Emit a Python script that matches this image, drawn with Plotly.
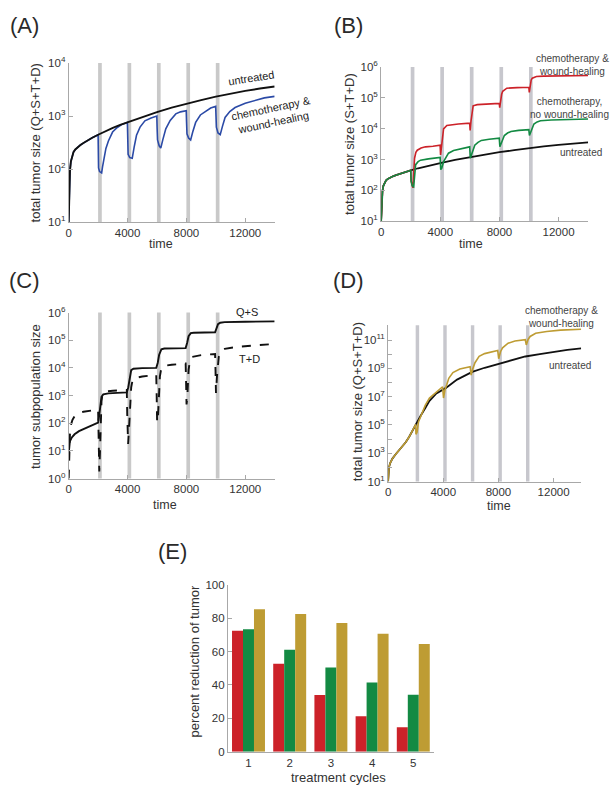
import plotly.graph_objects as go

W, H = 614, 799
FONT = "Liberation Sans, Arial, sans-serif"
TXT = "#333333"
AX = "#a8a8a8"

# ---------------- data ----------------
treatment_starts = [2000, 4000, 6000, 8000, 10000]
treatment_length = 250

# untreated growth, panels A & B
untreated_t = [0, 20, 50, 90, 150, 230, 330, 450, 600, 800, 1000, 1300, 1600, 2000, 2500, 3000, 3500,
               4000, 5000, 6000, 7000, 8000, 9000, 10000, 11000, 12000, 13000, 14000]
untreated_v = [10, 22, 50, 95, 140, 180, 210, 235, 258, 285, 310, 350, 390, 445, 520, 600, 680,
               760, 970, 1190, 1440, 1720, 2000, 2330, 2650, 2980, 3300, 3600]

# panel A: chemotherapy & wound-healing (after first treatment)
chemoA_t = [2000, 2030, 2100, 2240, 2300, 2400, 2530, 2700, 2983, 3300, 3600, 3990,
            4010, 4040, 4150, 4320, 4450, 4610, 4850, 5180, 5600, 5990,
            6010, 6040, 6150, 6260, 6400, 6600, 6900, 7280, 7600, 7990,
            8010, 8040, 8150, 8290, 8430, 8630, 8950, 9310, 9650, 9990,
            10010, 10040, 10150, 10300, 10450, 10630, 10950, 11310, 12000, 12670, 13300, 14000]
chemoA_v = [445, 105, 90, 85, 110, 170, 245, 340, 500, 610, 690, 760,
            400, 190, 165, 160, 260, 435, 620, 815, 920, 1000,
            600, 355, 275, 250, 360, 575, 830, 1100, 1200, 1260,
            800, 465, 385, 355, 500, 760, 1050, 1250, 1420, 1520,
            1000, 620, 480, 445, 640, 940, 1220, 1450, 1750, 2000, 2200, 2350]

# panel B: chemotherapy & wound-healing
chemoWH_t = [2000, 2030, 2100, 2150, 2200, 2260, 2350, 2444, 2700, 3000, 3500, 3990,
             4020, 4080, 4150, 4222, 4444, 4800, 5222, 5990,
             6020, 6080, 6150, 6222, 6500, 7200, 7990,
             8020, 8080, 8150, 8222, 8500, 9200, 9990,
             10020, 10080, 10150, 10222, 10500, 11000, 12000, 13000, 14000]
chemoWH_v = [445, 200, 130, 120, 350, 1100, 1700, 2000, 2350, 2570, 2700, 2900,
             1400, 2500, 6500, 9800, 12600, 13500, 14100, 15000,
             8700, 18000, 40000, 55000, 60000, 63000, 66000,
             48000, 80000, 130000, 163000, 205000, 213000, 220000,
             150000, 250000, 380000, 433000, 490000, 505000, 515000, 525000, 530000]

# panel B: chemotherapy, no wound-healing
chemoNoWH_t = [2000, 2030, 2100, 2200, 2260, 2333, 2500, 2667, 3200, 3890, 3990,
               4030, 4100, 4222, 4400, 4556, 4900, 5222, 5600, 5990,
               6030, 6150, 6333, 6550, 6778, 7300, 7990,
               8030, 8150, 8333, 8550, 8778, 9300, 9990,
               10030, 10150, 10333, 10550, 10778, 11500, 12500, 14000]
chemoNoWH_v = [445, 200, 140, 130, 300, 680, 850, 950, 1050, 1150, 1170,
               470, 520, 850, 1250, 1600, 1950, 2150, 2380, 2570,
               1100, 1700, 2900, 3600, 4150, 4550, 4900,
               2600, 3800, 6000, 7200, 8100, 8800, 9300,
               6000, 9000, 14100, 16500, 18000, 19000, 19800, 20500]

# panel C: subpopulations
QS_t = [0, 30, 80, 200, 400, 700, 1000, 1400, 1800, 2000, 2080, 2150, 2230, 2350, 2700, 3300, 3950,
        4050, 4150, 4250, 4400, 5000, 5950, 6050, 6150, 6300, 6500, 7950,
        8050, 8150, 8300, 8500, 9950, 10050, 10150, 10300, 10600, 12000, 14000]
QS_v = [8, 15, 22, 30, 40, 52, 62, 78, 95, 105, 200, 500, 900, 1100, 1200, 1250, 1300,
        2000, 5000, 8300, 9300, 9800, 10000, 15000, 30000, 47000, 50000, 52000,
        80000, 140000, 180000, 186000, 195000, 280000, 380000, 430000, 450000, 465000, 480000]

TD_t = [0, 20, 50, 100, 160, 250, 400, 700, 1000, 1500, 1950,
        2000, 2020, 2050, 2080, 2130, 2180, 2230, 2300, 2500, 3000, 3500, 3950,
        3980, 4010, 4040, 4080, 4150, 4250, 4350, 4500, 5000, 5500, 5950,
        5980, 6010, 6060, 6120, 6200, 6300, 6500, 7000, 7950,
        7980, 8010, 8060, 8150, 8250, 8400, 9000, 9950,
        9980, 10010, 10080, 10200, 10400, 10600, 11500, 12700, 14000]
TD_v = [1, 5, 30, 70, 90, 130, 180, 230, 260, 290, 310,
        300, 30, 3, 1.8, 10, 100, 600, 1200, 1400, 1500, 1550, 1600,
        200, 30, 18, 40, 300, 2000, 3800, 4300, 4900, 5300, 5600,
        1000, 110, 130, 800, 5000, 10000, 12000, 13000, 14500,
        3000, 480, 800, 8500, 20000, 25000, 29000, 32000,
        8000, 1250, 5000, 25000, 43000, 49000, 58000, 66000, 74000]

# panel D
untreatedD_t = [0, 30, 72, 150, 313, 550, 795, 1050, 1277, 1520, 1760, 2000, 2360, 2700, 3000, 3500,
                4170, 5000, 6100, 7000, 8020, 9000, 9950, 11000, 11880, 13000, 14000]
untreatedD_v = [10, 60, 110, 200, 420, 850, 1600, 3200, 6000, 14000, 39000, 1.12e5, 4.5e5, 1.6e6, 5e6, 1.7e7,
                4e7, 1.6e8, 5.6e8, 1.1e9, 2.1e9, 4e9, 6.9e9, 1e10, 1.4e10, 2e10, 2.6e10]

chemoD_t = [2000, 2020, 2100, 2200, 2400, 2700, 3000, 3500, 3950,
            4020, 4120, 4250, 4400, 4700, 5200, 5950,
            6020, 6150, 6300, 6600, 7000, 7950,
            8020, 8150, 8300, 8700, 9200, 9950,
            10020, 10150, 10300, 10700, 11500, 12500, 14000]
chemoD_v = [1.12e5, 2.2e4, 3e4, 1.6e5, 5e5, 2.5e6, 8e6, 2e7, 5e7,
            8e6, 3e7, 7e7, 2e8, 5e8, 9e8, 1.3e9,
            3.3e8, 1e9, 2.5e9, 7e9, 1.1e10, 1.8e10,
            4.8e9, 1.5e10, 2.8e10, 6e10, 8.5e10, 1.05e11,
            4.5e10, 1.1e11, 1.8e11, 3e11, 4e11, 5e11, 5.8e11]

# panel E
cycles = [1, 2, 3, 4, 5]
red_reduction = [72.5, 52.7, 33.9, 21.2, 14.7]
green_reduction = [73.3, 61.0, 50.4, 41.4, 34.1]
gold_reduction = [85.3, 82.5, 77.0, 70.6, 64.5]

RED = "#cc2229"
GREEN = "#138a43"
GOLD = "#be9c33"
BLUE = "#2b4aa6"


def prefix(t_list, v_list, t_end):
    ts = [t for t in t_list if t < t_end]
    vs = [v for t, v in zip(t_list, v_list) if t < t_end]
    return ts, vs


# ---------------- figure ----------------
fig = go.Figure()


def xd(a, b):
    return [a / W, b / W]


def yd(top, bottom):
    return [1 - bottom / H, 1 - top / H]


panels = {
    "A": dict(x=xd(66, 273), y=yd(56, 218), yr=[1, 4]),
    "B": dict(x=xd(380, 588), y=yd(60, 217), yr=[1, 6]),
    "C": dict(x=xd(66, 273), y=yd(310, 479), yr=[0, 6]),
    "D": dict(x=xd(387, 581), y=yd(323, 482), yr=[1, 12.04]),
}

axis_ids = {"A": ("x", "y"), "B": ("x2", "y2"), "C": ("x3", "y3"), "D": ("x4", "y4"), "E": ("x5", "y5")}

base_axis = dict(showline=True, linecolor=AX, linewidth=1, ticks="inside", tickcolor=AX, ticklen=4,
                 showgrid=False, zeroline=False, mirror=False,
                 tickfont=dict(family=FONT, size=11.5, color=TXT))

layout_axes = {}
for i, (key, p) in enumerate(panels.items(), start=1):
    sfx = "" if i == 1 else str(i)
    lo, hi = int(p["yr"][0]), int(p["yr"][1])
    yt = [10 ** k for k in range(lo, hi + 1)]
    if key == "D":
        ytext = ["10<sup>%d</sup>" % k if k % 2 == 1 else " " for k in range(lo, hi + 1)]
    else:
        ytext = ["10<sup>%d</sup>" % k for k in range(lo, hi + 1)]
    layout_axes["xaxis" + sfx] = dict(base_axis, domain=p["x"], anchor="y" + sfx, range=[0, 14000],
                                      tickvals=[0, 4000, 8000, 12000],
                                      ticktext=["0", "4000", "8000", "12000"])
    layout_axes["yaxis" + sfx] = dict(base_axis, domain=p["y"], anchor="x" + sfx, type="log",
                                      range=p["yr"], tickvals=yt, ticktext=ytext)

layout_axes["xaxis5"] = dict(base_axis, domain=xd(226, 433), anchor="y5", range=[0.5, 5.5],
                             tickvals=cycles, ticks="")
layout_axes["yaxis5"] = dict(base_axis, domain=yd(587, 757), anchor="x5", range=[0, 100],
                             tickvals=[0, 20, 40, 60, 80, 100])

# treatment bars
shapes = []
for key in ["A", "B", "C", "D"]:
    xa, ya = axis_ids[key]
    col = "#c9c9c9" if key in ("A", "C") else "#c7c7cd"
    for s in treatment_starts:
        shapes.append(dict(type="rect", xref=xa, yref=ya + " domain", x0=s, x1=s + treatment_length,
                           y0=0, y1=1, fillcolor=col, line=dict(width=0), layer="below"))


def line(xa, ya, t, v, color, width=2, dash="solid"):
    fig.add_trace(go.Scatter(x=t, y=v, mode="lines", xaxis=xa, yaxis=ya, showlegend=False,
                             line=dict(color=color, width=width, dash=dash), hoverinfo="skip"))


# Panel A
pt, pv = prefix(untreated_t, untreated_v, 2000)
line("x", "y", pt + chemoA_t, pv + chemoA_v, BLUE, 1.6)
line("x", "y", untreated_t, untreated_v, "#111111", 1.9)

# Panel B
line("x2", "y2", untreated_t, untreated_v, "#111111", 1.8)
line("x2", "y2", pt + chemoWH_t, pv + chemoWH_v, RED, 1.6)
line("x2", "y2", pt + chemoNoWH_t, pv + chemoNoWH_v, GREEN, 1.6)

# Panel C
line("x3", "y3", QS_t, QS_v, "#111111", 1.9)
line("x3", "y3", TD_t, TD_v, "#111111", 1.9, dash="dash")

# Panel D
line("x4", "y4", untreatedD_t, untreatedD_v, "#111111", 1.8)
pdt, pdv = prefix(untreatedD_t, untreatedD_v, 2000)
line("x4", "y4", pdt + chemoD_t, pdv + chemoD_v, GOLD, 1.6)

# Panel E
for vals, col in [(red_reduction, RED), (green_reduction, GREEN), (gold_reduction, GOLD)]:
    fig.add_trace(go.Bar(x=cycles, y=vals, xaxis="x5", yaxis="y5", marker=dict(color=col, line=dict(width=0)),
                         showlegend=False, hoverinfo="skip"))

# ---------------- annotations ----------------
ann = []


def text(x, y, s, size=12, angle=0, color=TXT, align="center"):
    ann.append(dict(x=x / W, y=1 - y / H, xref="paper", yref="paper", text=s, showarrow=False,
                    textangle=angle, align=align, xanchor="center", yanchor="middle",
                    font=dict(family=FONT, size=size, color=color)))


# panel letters
for lab, x, y in [("(A)", 22, 18), ("(B)", 347, 18), ("(C)", 22, 277), ("(D)", 347, 277), ("(E)", 170, 553)]:
    text(x, y, lab, size=22, color="#2a2a2a")

# axis titles
text(33, 137, "total tumor size (Q+S+T+D)", 13, -90)
text(159, 240, "time", 12.5)
text(348, 138, "total tumor size (S+T+D)", 13, -90)
text(470, 240, "time", 12.5)
text(32, 395, "tumor subpopulation size", 13, -90)
text(163, 506, "time", 12.5)
text(357, 401, "total tumor size (Q+S+T+D)", 13, -90)
text(498, 507, "time", 12.5)
text(192, 665, "percent reduction of tumor", 13, -90)
text(337, 783, "treatment cycles", 13)

# curve labels
text(249, 71, "untreated", 11, -9, "#222222")
text(271, 109, "chemotherapy &amp;<br>wound-healing", 11, -12, "#222222")
text(572, 58, "chemotherapy &amp;<br>wound-healing", 10, 0, "#444444")
text(569, 102, "chemotherapy,<br>no wound-healing", 10, 0, "#444444")
text(581, 147, "untreated", 10, 0, "#444444")
text(245, 309, "Q+S", 11, 0, "#222222")
text(248, 357, "T+D", 11, 0, "#222222")
text(561, 315, "chemotherapy &amp;<br>wound-healing", 10, 0, "#444444")
text(570, 364, "untreated", 10, 0, "#444444")

fig.update_layout(width=W, height=H, margin=dict(l=0, r=0, t=0, b=0), paper_bgcolor="white",
                  plot_bgcolor="rgba(0,0,0,0)", barmode="group", bargap=0.2, bargroupgap=0,
                  shapes=shapes, annotations=ann, showlegend=False, **layout_axes)

fig.write_html("out.html", config={"displayModeBar": False},
               post_script="document.body.style.margin='0';document.body.style.overflow='hidden';")
